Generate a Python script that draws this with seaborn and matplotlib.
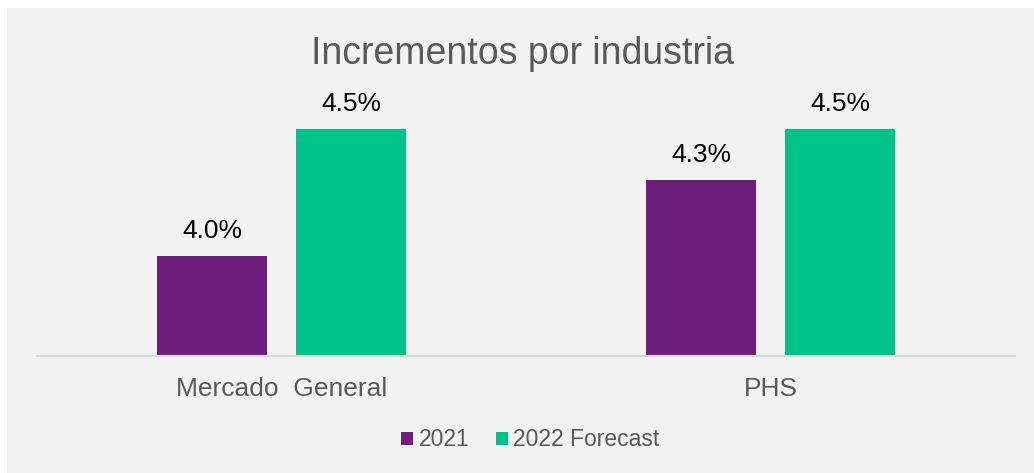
import pandas as pd
import matplotlib
matplotlib.use("Agg")
import matplotlib.pyplot as plt
from matplotlib.patches import Rectangle
import seaborn as sns

# --- datos ---
categorias = ["Mercado  General", "PHS"]
series = ["2021", "2022 Forecast"]
valores_2021 = [4.0, 4.3]
valores_2022 = [4.5, 4.5]
colores = ["#6e1f7e", "#00c389"]

df = pd.DataFrame({
    "categoria": categorias * 2,
    "serie": [series[0]] * 2 + [series[1]] * 2,
    "valor": valores_2021 + valores_2022,
})

sns.set_style("white")
plt.rcParams["font.family"] = ["Liberation Sans", "DejaVu Sans"]

fondo = "#f2f2f2"
gris = "#595959"

fig = plt.figure(figsize=(10.34, 4.73), dpi=100, facecolor="white")
# panel gris con pequeño margen blanco arriba/izquierda
fig.patches.append(Rectangle((7 / 1034, 0), 1, (473 - 8) / 473,
                             transform=fig.transFigure, facecolor=fondo,
                             edgecolor="none", zorder=-10))

ax = fig.add_axes([37 / 1034, (473 - 356) / 473, 978 / 1034, 252.5 / 473])
ax.set_facecolor(fondo)

sns.barplot(data=df, x="categoria", y="valor", hue="serie", palette=colores,
            saturation=1, linewidth=0, width=0.568, gap=0.21, ax=ax,
            legend=True)

ax.set_ylim(3.606, 4.6)
ax.set_xlim(-0.5, 1.5)

for cont in ax.containers:
    ax.bar_label(cont, labels=[f"{v:.1f}%" for v in cont.datavalues],
                 padding=9.5, fontsize=19, color="black")

for lado in ["top", "left", "right"]:
    ax.spines[lado].set_visible(False)
ax.spines["bottom"].set_color("#d9d9d9")
ax.spines["bottom"].set_linewidth(1.5)
ax.set_yticks([])
ax.set_xlabel("")
ax.set_ylabel("")
ax.tick_params(axis="x", length=0, pad=15, labelsize=19, labelcolor=gris)

handles, labels = ax.get_legend_handles_labels()
ax.get_legend().remove()
fig.legend(handles, labels, loc="center", bbox_to_anchor=(0.513, 0.07),
           ncol=2, frameon=False, fontsize=16.5, labelcolor=gris,
           handlelength=0.52, handleheight=0.52, handletextpad=0.22,
           columnspacing=1.18)

fig.text(0.505, 0.886, "Incrementos por industria", ha="center", va="center",
         fontsize=27, color=gris)

fig.savefig("out.png", dpi=100, facecolor="white")
